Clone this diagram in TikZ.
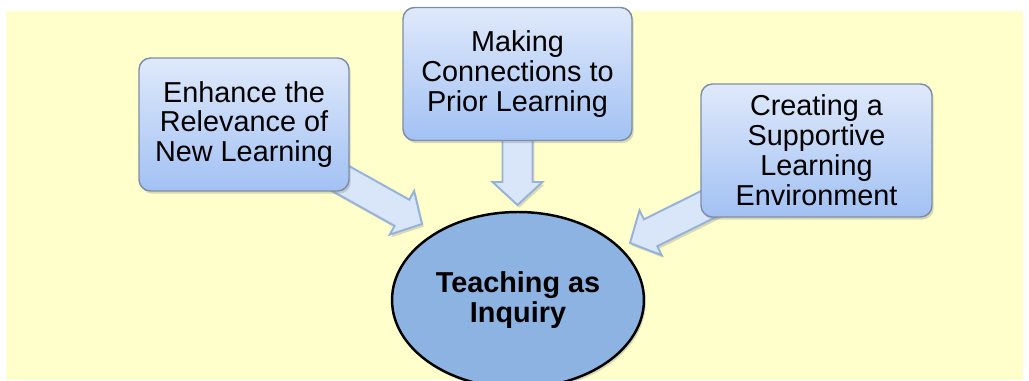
\documentclass[tikz,border=0pt]{standalone}
\usepackage{fontspec}
\setmainfont{Liberation Sans}
\usetikzlibrary{calc,shadows,backgrounds,shapes.geometric}

\definecolor{paper}{HTML}{FFFFCC}
\definecolor{boxtop}{HTML}{DFE9FB}
\definecolor{boxbot}{HTML}{A2C1F3}
\definecolor{boxline}{HTML}{7D8DA6}
\definecolor{arrfill}{HTML}{D9E5F9}
\definecolor{arrline}{HTML}{95B3DA}
\definecolor{teachfill}{HTML}{8DB3E2}

\tikzset{
  shade/.style={drop shadow={opacity=0.3, shadow xshift=1pt, shadow yshift=-1.5pt}},
  topic/.style={draw=boxline, line width=0.8pt, rounded corners=6.5pt,
    top color=boxtop, bottom color=boxbot, shade,
    align=center, minimum height=2.66cm, inner sep=2pt,
    font=\fontsize{16.4}{17}\selectfont},
  inquiry/.style={ellipse, draw=black, line width=1.4pt, fill=teachfill, shade,
    minimum width=5.04cm, minimum height=3.52cm, inner sep=0pt, align=center,
    font=\fontsize{16.4}{17}\selectfont\bfseries},
  fatarr/.style={draw=arrline, line width=1.1pt, fill=arrfill, line join=miter, shade}
}

% broad arrow from a box to a tip
\newcommand{\fatarrow}[2]{%
  \coordinate (h) at ($(#2)!0.46cm!(#1.center)$);
  \draw[fatarr] ($(#1.center)!0.3cm!90:(#2)$) -- ($(h)!0.3cm!90:(#2)$)
    -- ($(h)!0.5cm!90:(#2)$) -- (#2) -- ($(h)!0.5cm!-90:(#2)$)
    -- ($(h)!0.3cm!-90:(#2)$) -- ($(#1.center)!0.3cm!-90:(#2)$) -- cycle;
}

\begin{document}
\begin{tikzpicture}[x=0.02cm,y=-0.02cm]
\useasboundingbox (0,0) rectangle (1029,381);
\clip (0,0) rectangle (1029,381);
\node[topic, minimum width=4.2cm]  (relevance) at (244,124.5) {Enhance the\\Relevance of\\New Learning};
\node[topic, minimum width=4.58cm] (connect)   at (517.5,74)  {Making\\Connections to\\Prior Learning};
\node[topic, minimum width=4.62cm] (support)   at (816.5,150.5) {Creating a\\Supportive\\Learning\\Environment};
\node[inquiry] (inquiry) at (518,300) {Teaching as\\Inquiry};
\coordinate (relevanceTip) at (422,224);
\coordinate (connectTip)   at (517.5,205);
\coordinate (supportTip)   at (630,243);
\begin{scope}[on background layer]
\fill[paper] (6,11) rectangle (1023,380);
\fatarrow{relevance}{relevanceTip}
\fatarrow{connect}{connectTip}
\fatarrow{support}{supportTip}
\end{scope}
\end{tikzpicture}
\end{document}
